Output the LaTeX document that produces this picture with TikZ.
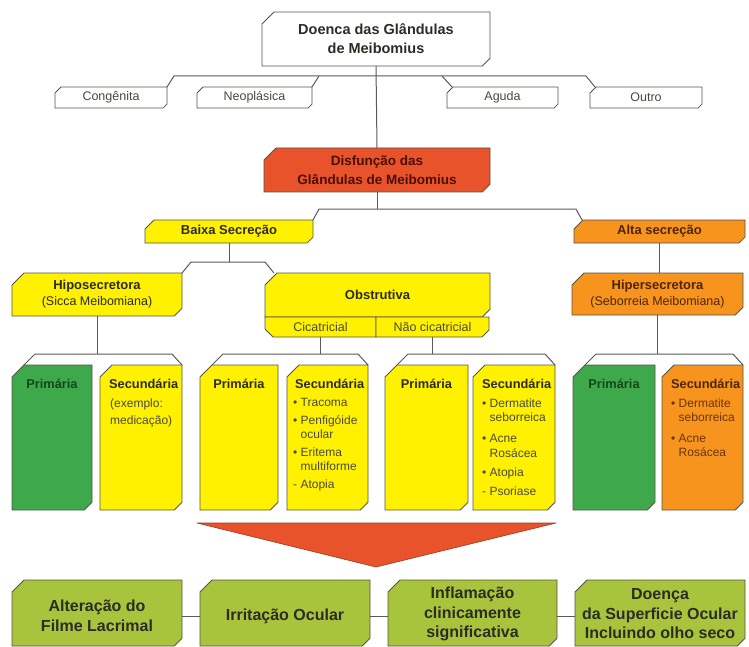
\documentclass[tikz,border=0pt]{standalone}
\usepackage{fontspec}
\setmainfont{Liberation Sans}
\definecolor{redc}{HTML}{E9532B}
\definecolor{reddk}{HTML}{9A3A1E}
\definecolor{yel}{HTML}{FFF100}
\definecolor{ora}{HTML}{F7941D}
\definecolor{grn}{HTML}{3EA94A}
\definecolor{lime}{HTML}{A8C43C}
\definecolor{bordc}{HTML}{555548}
\definecolor{linec}{HTML}{5A5A5A}
\definecolor{txtd}{HTML}{2C2C24}
\definecolor{txtr}{HTML}{4A4A3C}
\definecolor{redtxt}{HTML}{4A1006}
\definecolor{oratxt}{HTML}{4F2506}
\definecolor{oralist}{HTML}{6A3410}
\definecolor{grntxt}{HTML}{15461C}
\tikzset{
  boxline/.style={draw=bordc, line width=0.8pt, line join=miter},
  conn/.style={draw=linec, line width=1pt},
  reg/.style={font=\fontsize{12.5}{15}\selectfont, text=txtr, align=center, inner sep=0pt},
  bld/.style={font=\bfseries\fontsize{13}{16}\selectfont, text=txtd, align=center, inner sep=0pt},
  big/.style={font=\bfseries\fontsize{16}{19.5}\selectfont, text=txtd, align=center, inner sep=0pt},
  lst/.style={font=\fontsize{12}{14.5}\selectfont, text=txtr, align=left, inner sep=0pt, anchor=north west},
  ttl/.style={font=\bfseries\fontsize{12.8}{15}\selectfont, text=txtd, inner sep=0pt},
}
% name, fill, x1, y1, x2, y2, chamfer
\newcommand{\mychbox}[7]{%
  \filldraw[boxline, fill=#2] (#3,#4+#7) -- (#3+#7,#4) -- (#5,#4) -- (#5,#6-0.65*#7) -- (#5-0.65*#7,#6) -- (#3,#6) -- cycle;
  \node[inner sep=0pt, outer sep=0pt, minimum width={(#5-#3)*1pt}, minimum height={(#6-#4)*1pt}] (#1) at ({(#3+#5)/2},{(#4+#6)/2}) {};%
}
\begin{document}
\begin{tikzpicture}[x=1pt,y=-1pt]
\useasboundingbox (0,0) rectangle (749,647);
\fill[white] (0,0) rectangle (749,647);

% ---- level 1
\mychbox{top}{white}{262}{12}{490}{66}{12}
\node[bld, font=\bfseries\fontsize{14.5}{19}\selectfont] (ttop) at (top) {Doenca das Glândulas\\de Meibomius};

\mychbox{cong}{white}{55}{87}{167}{108}{6}
\mychbox{neop}{white}{197}{87}{312}{108}{6}
\mychbox{agud}{white}{447}{87}{558}{108}{6}
\mychbox{outr}{white}{590}{87}{702}{108}{6}
\node[reg] (tcong) at (cong) {Congênita};
\node[reg] (tneop) at (neop) {Neoplásica};
\node[reg] (tagud) at (agud) {Aguda};
\node[reg] (toutr) at (outr) {Outro};

\coordinate (tbl) at (174,76);
\coordinate (tbr) at (586,76);
\coordinate (tbn) at (319,76);
\coordinate (tba) at (442,76);
\draw[conn] (cong.north east) -- (tbl) -- (tbr) -- ([xshift=5pt]outr.north west);
\draw[conn] (tbn) -- (neop.north east);
\draw[conn] (tba) -- ([xshift=5pt]agud.north west);

% ---- level 2
\mychbox{disf}{redc}{264}{148}{490}{192}{12}
\node[bld, text=redtxt, font=\bfseries\fontsize{13.5}{19}\selectfont] (tdisf) at (disf) {Disfunção das\\Glândulas de Meibomius};
\draw[conn] (top.south) -- (disf.north);

\mychbox{baixa}{yel}{145}{220}{313}{243}{9}
\mychbox{alta}{ora}{574}{220}{745}{243}{9}
\node[bld] (tbaixa) at (baixa) {Baixa Secreção};
\node[bld, text=oratxt] (talta) at (alta) {Alta secreção};
\coordinate (b2l) at (319,209);
\coordinate (b2r) at (576,209);
\draw[conn] (baixa.north east) -- (b2l) -- (b2r) -- ([xshift=8pt]alta.north west);
\draw[conn] (disf.south) -- (disf.south |- b2l);

% ---- level 3
\mychbox{hipo}{yel}{12}{273}{182}{316}{12}
\node[bld] (thipo) at (hipo) {Hiposecretora\\{\mdseries\fontsize{12.5}{16}\selectfont (Sicca Meibomiana)}};

\mychbox{obst}{yel}{265}{273}{490}{317}{12}
\node[bld] (tobst) at (obst) {Obstrutiva};
\filldraw[boxline, fill=yel] (265,317) -- (376,317) -- (376,337) -- (273,337) -- (265,329) -- cycle;
\node[inner sep=0pt, minimum width=111pt, minimum height=20pt] (cic) at (320.5,327) {};
\node[reg] (tcic) at (cic) {Cicatricial};
\filldraw[boxline, fill=yel] (376,317) -- (489,317) -- (489,330) -- (482,337) -- (376,337) -- cycle;
\node[inner sep=0pt, minimum width=113pt, minimum height=20pt] (ncic) at (432.5,327) {};
\node[reg] (tncic) at (ncic) {Não cicatricial};

\coordinate (b3l) at (191,262);
\coordinate (b3r) at (265,262);
\draw[conn] (hipo.north east) -- (b3l) -- (b3r) -- ([xshift=9pt]obst.north west);
\draw[conn] (baixa.south) -- (baixa.south |- b3l);

\mychbox{hiper}{ora}{572}{273}{743}{315}{12}
\node[bld, text=oratxt] (thiper) at (hiper) {Hipersecretora\\{\mdseries\fontsize{12.5}{16}\selectfont (Seborreia Meibomiana)}};
\draw[conn] (alta.south) -- (alta.south |- hiper.north);

% ---- level 4
\mychbox{hp1}{grn}{12}{365}{92}{510}{12}
\mychbox{hs1}{yel}{100}{365}{182}{510}{12}
\mychbox{cp}{yel}{200}{365}{278}{510}{12}
\mychbox{cs}{yel}{287}{365}{368}{510}{12}
\mychbox{np}{yel}{385}{365}{468}{510}{12}
\mychbox{ns}{yel}{473}{365}{555}{510}{12}
\mychbox{hpp}{grn}{573}{365}{655}{510}{12}
\mychbox{hps}{ora}{662}{365}{743}{510}{12}

\coordinate (r1l) at (35,354);  \coordinate (r1r) at (172,354);
\coordinate (r2l) at (223,354); \coordinate (r2r) at (358,354);
\coordinate (r3l) at (408,354); \coordinate (r3r) at (545,354);
\coordinate (r4l) at (596,354); \coordinate (r4r) at (733,354);
\draw[conn] ([xshift=12pt]hp1.north west) -- (r1l) -- (r1r) -- (hs1.north east);
\draw[conn] ([xshift=12pt]cp.north west) -- (r2l) -- (r2r) -- (cs.north east);
\draw[conn] ([xshift=12pt]np.north west) -- (r3l) -- (r3r) -- (ns.north east);
\draw[conn] ([xshift=12pt]hpp.north west) -- (r4l) -- (r4r) -- (hps.north east);
\draw[conn] (hipo.south) -- (hipo.south |- r1l);
\draw[conn] (cic.south) -- (cic.south |- r2l);
\draw[conn] (ncic.south) -- (ncic.south |- r3l);
\draw[conn] (hiper.south) -- (hiper.south |- r4l);

\node[ttl, text=grntxt, anchor=base] (thp1) at ([yshift=-23pt]hp1.north) {Primária};
\node[ttl, anchor=base] (tcp) at ([yshift=-23pt]cp.north) {Primária};
\node[ttl, anchor=base] (tnp) at ([yshift=-23pt]np.north) {Primária};
\node[ttl, text=grntxt, anchor=base] (thpp) at ([yshift=-23pt]hpp.north) {Primária};

\node[ttl, anchor=base west] (ths1) at ([xshift=9pt,yshift=-23pt]hs1.north west) {Secundária};
\node[ttl, anchor=base west] (tcs) at ([xshift=8pt,yshift=-23pt]cs.north west) {Secundária};
\node[ttl, anchor=base west] (tns) at ([xshift=9pt,yshift=-23pt]ns.north west) {Secundária};
\node[ttl, text=oratxt, anchor=base west] (thps) at ([xshift=9pt,yshift=-23pt]hps.north west) {Secundária};

\node[lst] (lhs1) at ([xshift=10pt,yshift=-33.5pt]hs1.north west) {(exemplo:\\[2.5pt]medicação)};
\node[lst] (lcs) at ([xshift=6pt,yshift=-33.5pt]cs.north west)
  {• Tracoma\\[3pt]• Penfigóide\\\phantom{• }ocular\\[3pt]• Eritema\\\phantom{• }multiforme\\[3pt]- Atopia};
\node[lst] (lns) at ([xshift=9pt,yshift=-33.5pt]ns.north west)
  {• Dermatite\\\phantom{• }seborreica\\[6.5pt]• Acne\\\phantom{• }Rosácea\\[5pt]• Atopia\\[4.5pt]- Psoriase};
\node[lst, text=oralist] (lhps) at ([xshift=9pt,yshift=-33.5pt]hps.north west)
  {• Dermatite\\\phantom{• }seborreica\\[6pt]• Acne\\\phantom{• }Rosácea};

% ---- triangle
\filldraw[fill=redc, draw=reddk, line width=0.6pt, line join=round] (197,523) -- (556,523) -- (376,567) -- cycle;

% ---- bottom row
\mychbox{b1}{lime}{12}{580}{182}{646}{12}
\mychbox{b2}{lime}{200}{580}{370}{646}{12}
\mychbox{b3}{lime}{388}{580}{557}{646}{12}
\mychbox{b4}{lime}{575}{580}{745}{646}{12}
\draw[conn] ([yshift=-3pt]b1.east) -- ([yshift=-3pt]b2.west);
\draw[conn] ([yshift=-3pt]b2.east) -- ([yshift=-3pt]b3.west);
\draw[conn] ([yshift=-3pt]b3.east) -- ([yshift=-3pt]b4.west);
\node[big] (tb1) at ([yshift=-3pt]b1.center) {Alteração do\\Filme Lacrimal};
\node[big] (tb2) at ([yshift=-3pt]b2.center) {Irritação Ocular};
\node[big] (tb3) at ([yshift=-1pt]b3.center) {Inflamação\\clinicamente\\significativa};
\node[big] (tb4) at ([yshift=-1pt]b4.center) {Doença\\da Superficie Ocular\\Incluindo olho seco};
\end{tikzpicture}
\end{document}
